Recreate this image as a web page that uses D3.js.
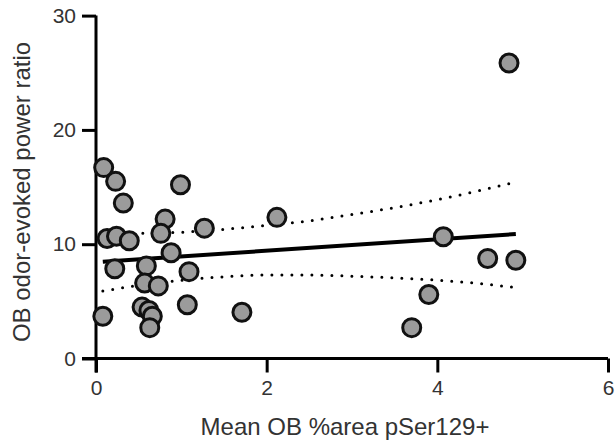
<!DOCTYPE html>
<html>
<head>
<meta charset="utf-8">
<script src="https://cdn.jsdelivr.net/npm/d3@7"></script>
<style>
  body { margin: 0; background: #fff; }
  text { font-family: "Liberation Sans", Arial, sans-serif; }
</style>
</head>
<body>
<svg id="chart" width="616" height="440"></svg>
<script>
// points
const pSer129 = [0.09, 0.23, 0.32, 0.99, 0.81, 0.76, 0.13, 0.24, 0.39, 0.88,
    0.22, 0.59, 1.09, 0.57, 0.73, 0.08, 0.54, 0.62, 0.66, 0.63,
    1.07, 1.27, 1.71, 2.12, 4.07, 3.90, 3.70, 4.59, 4.92, 4.84];
const powerRatio = [16.7, 15.5, 13.6, 15.2, 12.2, 10.95, 10.5, 10.7, 10.3, 9.25,
    7.85, 8.1, 7.6, 6.6, 6.35, 3.7, 4.5, 4.2, 3.7, 2.7,
    4.7, 11.4, 4.05, 12.35, 10.65, 5.6, 2.7, 8.75, 8.6, 25.85];

// fitted line and its confidence band, as read
const fitX = [0.08, 4.92];
const fitY = [8.47, 10.89];
const bandX = [0.08, 0.5, 1.0, 1.5, 2.0, 2.5, 3.0, 3.5, 4.0, 4.5, 4.92];
const bandUpper = [11.0, 10.95, 11.05, 11.3, 11.65, 12.05, 12.6, 13.2, 13.9, 14.7, 15.45];
const bandLower = [5.9, 6.4, 6.85, 7.15, 7.3, 7.3, 7.2, 7.05, 6.85, 6.55, 6.2];

const xTicks = [0, 2, 4, 6];
const yTicks = [0, 10, 20, 30];

const svg = d3.select("#chart");

const x = d3.scaleLinear().domain([0, 6]).range([96, 608]);
const y = d3.scaleLinear().domain([0, 30]).range([358.5, 15.6]);

// axes
const xAxis = svg.append("g")
    .attr("transform", `translate(0,${y(0)})`)
    .call(d3.axisBottom(x).tickValues(xTicks).tickFormat(d3.format("d"))
        .tickSize(14).tickSizeOuter(0).tickPadding(8));
const yAxis = svg.append("g")
    .attr("transform", `translate(${x(0)},0)`)
    .call(d3.axisLeft(y).tickValues(yTicks).tickFormat(d3.format("d"))
        .tickSize(14).tickSizeOuter(0).tickPadding(6));

[xAxis, yAxis].forEach(g => {
    g.selectAll("path, line").attr("stroke", "#000").attr("stroke-width", 3);
    g.selectAll("text").attr("fill", "#333").style("font-size", "21px");
});
// y axis line runs down to the bottom of the x ticks
yAxis.select(".domain").attr("d", `M0,${y(30)}V${y(0) + 14}`);
xAxis.select(".domain").attr("d", `M${x(0) - 14},0H${x(6)}`);

// confidence band
const bandLine = (vals) => d3.line()
    .x((d, i) => x(bandX[i]))
    .y((d, i) => y(vals[i]))
    .curve(d3.curveMonotoneX)(vals);

[bandUpper, bandLower].forEach(vals => {
    svg.append("path")
        .attr("d", bandLine(vals))
        .attr("fill", "none")
        .attr("stroke", "#000")
        .attr("stroke-width", 3)
        .attr("stroke-linecap", "round")
        .attr("stroke-dasharray", "0,10");
});

// regression line
svg.append("line")
    .attr("x1", x(fitX[0])).attr("y1", y(fitY[0]))
    .attr("x2", x(fitX[1])).attr("y2", y(fitY[1]))
    .attr("stroke", "#000")
    .attr("stroke-width", 4);

// points
svg.append("g")
    .selectAll("circle")
    .data(pSer129)
    .enter()
    .append("circle")
    .attr("cx", d => x(d))
    .attr("cy", (d, i) => y(powerRatio[i]))
    .attr("r", 9)
    .attr("fill", "#9b9b9b")
    .attr("stroke", "#111")
    .attr("stroke-width", 3);

// axis titles
svg.append("text")
    .attr("x", 345)
    .attr("y", 435)
    .attr("text-anchor", "middle")
    .attr("fill", "#333")
    .style("font-size", "24px")
    .text("Mean OB %area pSer129+");

svg.append("text")
    .attr("transform", "translate(30,192) rotate(-90)")
    .attr("text-anchor", "middle")
    .attr("fill", "#333")
    .style("font-size", "24px")
    .text("OB odor-evoked power ratio");
</script>
</body>
</html>
